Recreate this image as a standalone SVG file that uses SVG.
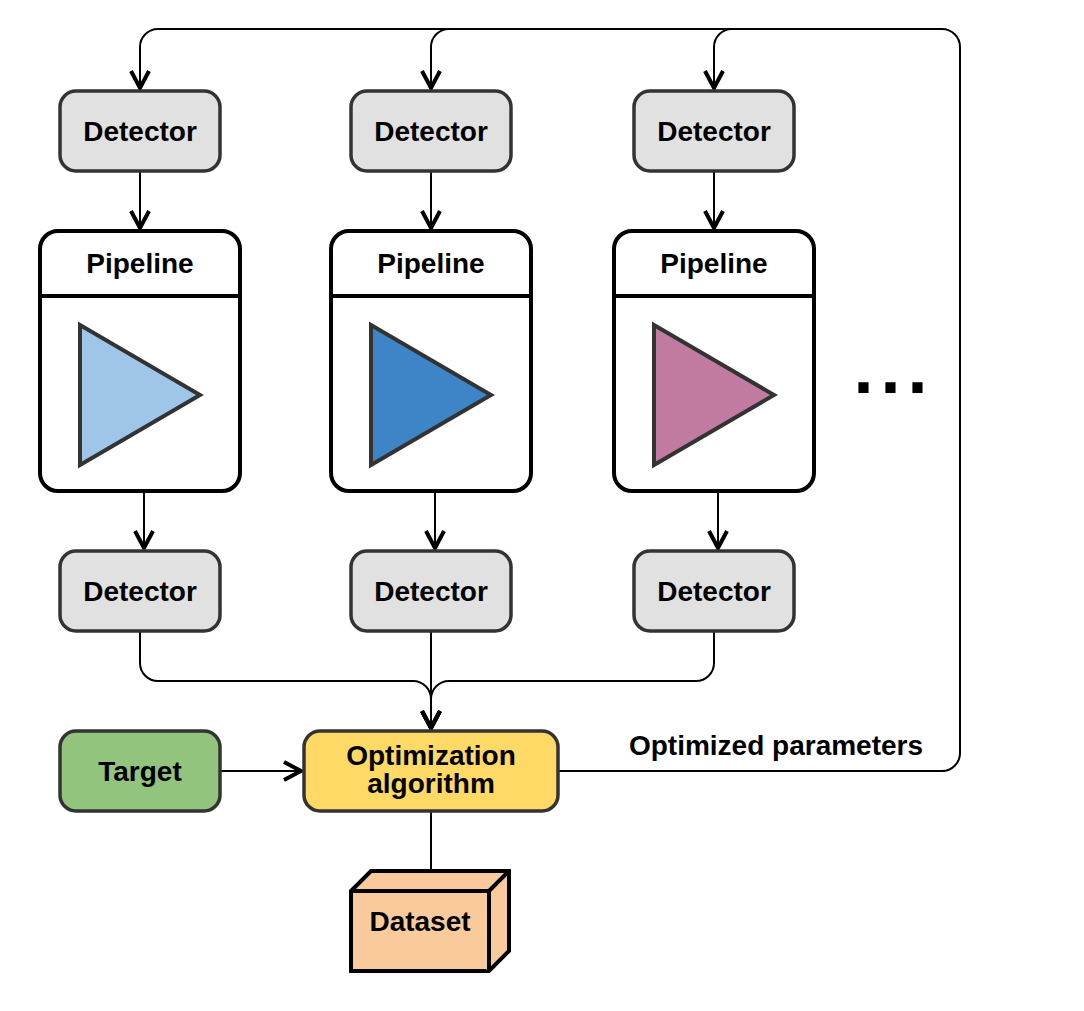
<svg xmlns="http://www.w3.org/2000/svg" width="1084" height="1011" viewBox="0 0 1084 1011">
<style>
text{font-family:"Liberation Sans",Arial,sans-serif;font-weight:bold;font-size:28px;fill:#000;text-anchor:middle}
.det{fill:#e1e1e1;stroke:#333;stroke-width:3.5}
.pipe{fill:#fff;stroke:#000;stroke-width:4}
.tri{stroke:#333;stroke-width:4;stroke-linejoin:miter}
.c{fill:none;stroke:#000;stroke-width:2}
.a{marker-end:url(#arrow)}
.box{fill:#f9cb9c;stroke:#000;stroke-width:4;stroke-linejoin:miter}
</style>
<defs>
<marker id="arrow" markerUnits="userSpaceOnUse" markerWidth="24" markerHeight="28" refX="20" refY="12" orient="auto" overflow="visible">
<path d="M2 3 L19 12 L2 21" fill="none" stroke="#000" stroke-width="4"/>
</marker>
</defs>
<g id="connectors">
<path class="c a" d="M558 771H942A18 18 0 0 0 960 753V47A18 18 0 0 0 942 29H158A18 18 0 0 0 140 47V89"/>
<path class="c a" d="M942 29H449A18 18 0 0 0 431 47V89"/>
<path class="c a" d="M942 29H732A18 18 0 0 0 714 47V89"/>
<path class="c a" d="M140 171V229"/>
<path class="c a" d="M431 171V229"/>
<path class="c a" d="M714 171V229"/>
<path class="c a" d="M144 491V549"/>
<path class="c a" d="M435 491V549"/>
<path class="c a" d="M718 491V549"/>
<path class="c a" d="M140 631V663A18 18 0 0 0 158 681H413A18 18 0 0 1 431 699V729"/>
<path class="c a" d="M431 631V729"/>
<path class="c a" d="M714 631V663A18 18 0 0 1 696 681H449A18 18 0 0 0 431 699V729"/>
<path class="c a" d="M220 771H302"/>
<path class="c" d="M431 811V871"/>
</g>
<g id="detector-top-1"><rect class="det" x="60" y="91" width="160" height="80" rx="16"/><text x="140" y="141">Detector</text></g>
<g id="detector-top-2"><rect class="det" x="351" y="91" width="160" height="80" rx="16"/><text x="431" y="141">Detector</text></g>
<g id="detector-top-3"><rect class="det" x="634" y="91" width="160" height="80" rx="16"/><text x="714" y="141">Detector</text></g>
<g id="pipeline-1"><rect class="pipe" x="40" y="231" width="200" height="260" rx="18"/><path class="pipe" d="M40 296H240"/><text x="140" y="273">Pipeline</text><path class="tri" fill="#9fc5e8" d="M80 325L200 395L80 465Z"/></g>
<g id="pipeline-2"><rect class="pipe" x="331" y="231" width="200" height="260" rx="18"/><path class="pipe" d="M331 296H531"/><text x="431" y="273">Pipeline</text><path class="tri" fill="#3d85c6" d="M371 325L491 395L371 465Z"/></g>
<g id="pipeline-3"><rect class="pipe" x="614" y="231" width="200" height="260" rx="18"/><path class="pipe" d="M614 296H814"/><text x="714" y="273">Pipeline</text><path class="tri" fill="#c27ba0" d="M654 325L774 395L654 465Z"/></g>
<g id="detector-bottom-1"><rect class="det" x="60" y="551" width="160" height="80" rx="16"/><text x="140" y="601">Detector</text></g>
<g id="detector-bottom-2"><rect class="det" x="351" y="551" width="160" height="80" rx="16"/><text x="431" y="601">Detector</text></g>
<g id="detector-bottom-3"><rect class="det" x="634" y="551" width="160" height="80" rx="16"/><text x="714" y="601">Detector</text></g>
<g id="ellipsis"><text x="894" y="393" style="font-size:72px;letter-spacing:7px">...</text></g>
<g id="target"><rect x="60" y="731" width="160" height="80" rx="16" fill="#93c47d" stroke="#333" stroke-width="3.5"/><text x="140" y="781">Target</text></g>
<g id="optimization"><rect x="304" y="731" width="254" height="80" rx="16" fill="#ffd966" stroke="#333" stroke-width="3.5"/><text x="431" y="765">Optimization</text><text x="431" y="793">algorithm</text></g>
<g id="dataset"><path class="box" d="M351 891L371 871H509V951L489 971H351Z"/><path class="box" d="M351 891H489V971M489 891L509 871"/><text x="420" y="931">Dataset</text></g>
<text id="edge-label" x="776" y="755">Optimized parameters</text>
</svg>
